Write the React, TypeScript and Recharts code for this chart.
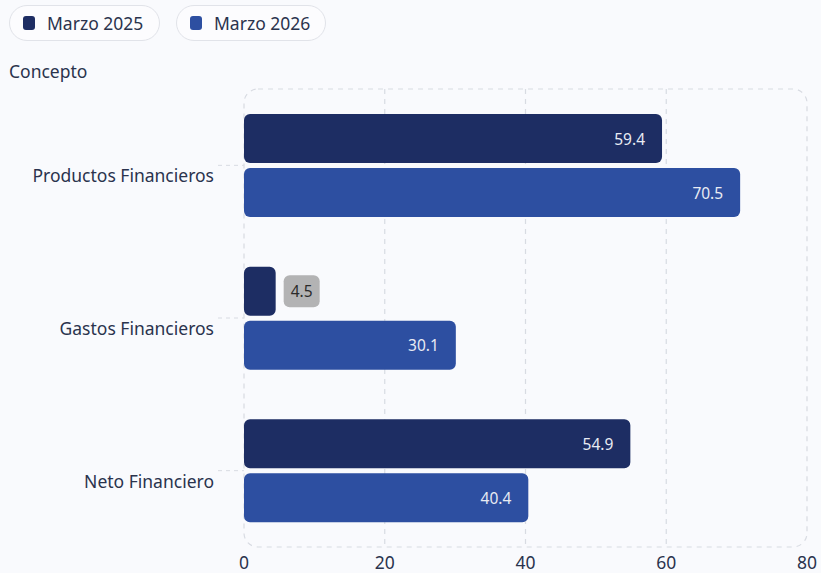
import React from "react";
import { BarChart, Bar, XAxis, YAxis, ReferenceArea, CartesianGrid, LabelList } from "recharts";

const categories = ["Productos Financieros", "Gastos Financieros", "Neto Financiero"];
const marzo2025 = [59.4, 4.5, 54.9];
const marzo2026 = [70.5, 30.1, 40.4];
const xTicks = [0, 20, 40, 60, 80];
const seriesNames = ["Marzo 2025", "Marzo 2026"];
const seriesColors = ["#1d2d63", "#2d4fa1"];

const data = categories.map((c, i) => ({ name: c, a: marzo2025[i], b: marzo2026[i] }));

const FONT = "'Noto Sans', 'Open Sans', sans-serif";
const TEXT = "#2a334d";

const YTick = (props: any) => (
  <text x={props.x} y={props.y} dy={10} textAnchor="end" dominantBaseline="central" fill={TEXT} fontSize={17.5} fontFamily={FONT}>
    {props.payload.value}
  </text>
);

const BarLabel = (props: any) => {
  const { x, y, width, height, value } = props;
  const cy = y + height / 2;
  const txt = Number(value).toFixed(1);
  if (width < 50) {
    const bx = x + width + 8;
    return (
      <g>
        <rect x={bx} y={cy - 16} width={36} height={32} rx={6} fill="#b3b3b4" />
        <text x={bx + 18} y={cy} textAnchor="middle" dominantBaseline="central" fill="#2b2b2b" fontSize={15.5} fontFamily={FONT}>
          {txt}
        </text>
      </g>
    );
  }
  return (
    <text x={x + width - 17} y={cy} textAnchor="end" dominantBaseline="central" fill="#e8ebf3" fontSize={15.5} fontFamily={FONT}>
      {txt}
    </text>
  );
};

const Border = (p: any) => (
  <rect x={p.x} y={p.y} width={p.width} height={p.height} rx={14} ry={14} fill="none" stroke="#d8dbe2" strokeWidth={1.2} strokeDasharray="5 5" />
);

const Pill = ({ left, width, color, label }: any) => (
  <div
    style={{
      position: "absolute",
      left,
      top: 5,
      width,
      height: 36,
      boxSizing: "border-box",
      border: "1.5px solid #e1e3e9",
      borderRadius: 18,
      background: "#fcfcfe",
      display: "flex",
      alignItems: "center",
      fontFamily: FONT,
      fontSize: 17.5,
      color: TEXT,
    }}
  >
    <div style={{ width: 12, height: 14, borderRadius: 3, background: color, marginLeft: 13, marginRight: 12 }} />
    <span>{label}</span>
  </div>
);

export default function App() {
  return (
    <div style={{ position: "absolute", left: 0, top: 0, width: 821, height: 573, background: "#f9fafd", overflow: "hidden" }}>
      <Pill left={9} width={151} color={seriesColors[0]} label={seriesNames[0]} />
      <Pill left={176} width={150} color={seriesColors[1]} label={seriesNames[1]} />
      <div style={{ position: "absolute", left: 9, top: 59, fontFamily: FONT, fontSize: 17.5, color: TEXT }}>Concepto</div>
      <div style={{ position: "absolute", left: 0, top: 0 }}>
        <BarChart
          width={821}
          height={573}
          data={data}
          layout="vertical"
          margin={{ top: 89, right: 14, bottom: 0, left: 8 }}
          barSize={49}
          barGap={5}
        >
          <CartesianGrid
            horizontal={false}
            vertical
            verticalValues={xTicks.slice(1, -1)}
            stroke="#d8dbe2"
            strokeWidth={1.2}
            strokeDasharray="5 5"
          />
          <ReferenceArea x1={0} x2={80} shape={Border} zIndex={-1} />
          <XAxis
            type="number"
            domain={[0, 80]}
            ticks={xTicks}
            axisLine={false}
            tickLine={false}
            tickSize={0}
            tickMargin={10}
            height={26}
            tick={{ fill: TEXT, fontSize: 17.5, fontFamily: FONT }}
            interval={0}
          />
          <YAxis
            type="category"
            dataKey="name"
            width={236}
            axisLine={false}
            tickSize={26}
            tickMargin={4}
            tickLine={{ stroke: "#d8dbe2", strokeDasharray: "4 4" }}
            tick={<YTick />}
          />
          <Bar dataKey="a" name={seriesNames[0]} fill={seriesColors[0]} radius={6} isAnimationActive={false}>
            <LabelList dataKey="a" content={BarLabel} />
          </Bar>
          <Bar dataKey="b" name={seriesNames[1]} fill={seriesColors[1]} radius={6} isAnimationActive={false}>
            <LabelList dataKey="b" content={BarLabel} />
          </Bar>
        </BarChart>
      </div>
    </div>
  );
}
